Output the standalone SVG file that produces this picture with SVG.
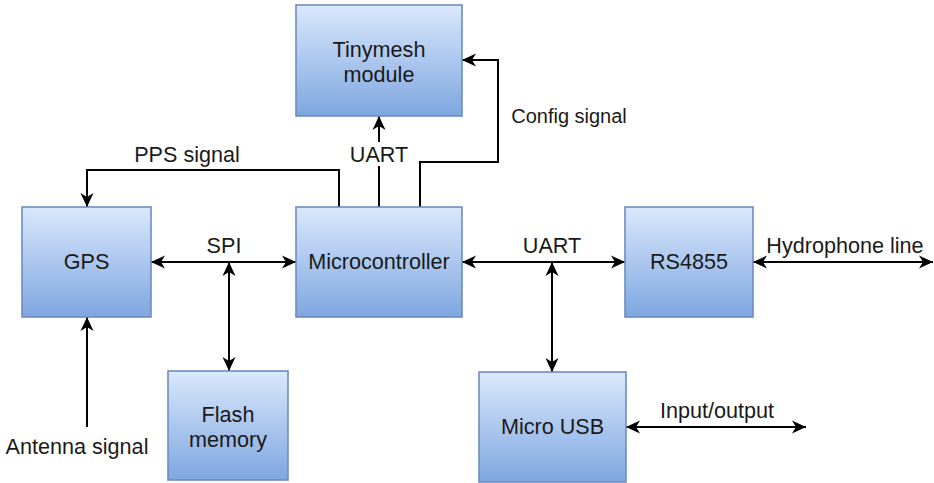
<svg xmlns="http://www.w3.org/2000/svg" width="934" height="483" viewBox="0 0 934 483">
  <defs>
    <linearGradient id="boxFill" x1="0" y1="0" x2="0" y2="1">
      <stop offset="0" stop-color="#dae8fc"/>
      <stop offset="1" stop-color="#7ea6e0"/>
    </linearGradient>
    <marker id="arr" viewBox="-15 -8 16 16" refX="0" refY="0" markerWidth="16" markerHeight="16" markerUnits="userSpaceOnUse" orient="auto-start-reverse">
      <path d="M0,0 L-14,-6.5 L-10,0 L-14,6.5 Z" fill="#000"/>
    </marker>
  </defs>
  <style>
    .box { fill: url(#boxFill); stroke: #6c8ebf; stroke-width: 1.6; }
    .lbl { font-family: "Liberation Sans", Arial, sans-serif; font-size: 21.6px; fill: #1a1a1a; text-anchor: middle; }
    .small { font-size: 20px; }
    .edge { fill: none; stroke: #000; stroke-width: 2; }
    .one { marker-end: url(#arr); }
    .two { marker-start: url(#arr); marker-end: url(#arr); }
  </style>

  <rect width="934" height="483" fill="#ffffff"/>

  <!-- connectors -->
  <g id="connectors">
    <!-- SPI bus between GPS and microcontroller -->
    <line class="edge two" x1="151" y1="262" x2="296" y2="262"/>
    <line class="edge two" x1="229" y1="262" x2="229" y2="371"/>
    <!-- PPS signal -->
    <polyline class="edge one" points="339,207 339,170 87,170 87,207"/>
    <!-- UART to radio module -->
    <line class="edge one" x1="379" y1="207" x2="379" y2="116"/>
    <!-- Config signal -->
    <polyline class="edge one" points="420,207 420,162 498,162 498,60 462,60"/>
    <!-- Antenna -->
    <line class="edge one" x1="87" y1="427" x2="87" y2="317"/>
    <!-- UART bus to RS4855 and USB -->
    <line class="edge two" x1="462" y1="262" x2="625" y2="262"/>
    <line class="edge two" x1="552" y1="262" x2="552" y2="372"/>
    <!-- external lines -->
    <line class="edge two" x1="753" y1="262" x2="933" y2="262"/>
    <line class="edge two" x1="626" y1="427" x2="806" y2="427"/>

    <!-- connector labels -->
    <text class="lbl" x="224" y="253">SPI</text>
    <text class="lbl" x="187" y="162">PPS signal</text>
    <rect x="350" y="142" width="58" height="24" fill="#ffffff"/>
    <text class="lbl" x="379" y="162">UART</text>
    <text class="lbl small" x="569" y="123">Config signal</text>
    <text class="lbl" x="77" y="454">Antenna signal</text>
    <text class="lbl" x="552" y="253">UART</text>
    <text class="lbl" x="845" y="253">Hydrophone line</text>
    <text class="lbl" x="717" y="418">Input/output</text>
  </g>

  <g id="tinymesh">
    <rect class="box" x="296" y="5" width="166" height="111"/>
    <text class="lbl" x="379" y="57">Tinymesh</text>
    <text class="lbl" x="379" y="82">module</text>
  </g>

  <g id="gps">
    <rect class="box" x="22" y="207" width="129" height="110"/>
    <text class="lbl" x="86.5" y="269">GPS</text>
  </g>

  <g id="microcontroller">
    <rect class="box" x="296" y="207" width="166" height="110"/>
    <text class="lbl" x="379" y="269">Microcontroller</text>
  </g>

  <g id="rs4855">
    <rect class="box" x="625" y="207" width="128" height="110"/>
    <text class="lbl" x="689" y="269">RS4855</text>
  </g>

  <g id="flash">
    <rect class="box" x="168" y="371" width="120" height="109"/>
    <text class="lbl" x="228" y="422">Flash</text>
    <text class="lbl" x="228" y="447">memory</text>
  </g>

  <g id="usb">
    <rect class="box" x="479" y="372" width="147" height="110"/>
    <text class="lbl" x="552.5" y="434">Micro USB</text>
  </g>
</svg>
